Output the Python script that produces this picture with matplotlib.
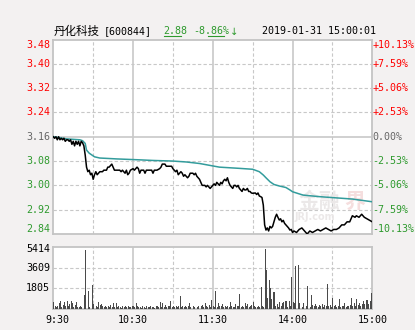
import matplotlib
matplotlib.use("Agg")
import matplotlib.pyplot as plt
from matplotlib.lines import Line2D

# ---- data -------------------------------------------------------------
prev_close = 3.16
last_price = 2.88
change_pct = "-8.86%"
stock_name = "丹化科技"
stock_code = "[600844]"
timestamp = "2019-01-31 15:00:01"

price_ticks = [3.48, 3.40, 3.32, 3.24, 3.16, 3.08, 3.00, 2.92, 2.84]
pct_labels = ["+10.13%", "+7.59%", "+5.06%", "+2.53%", "0.00%",
              "-2.53%", "-5.06%", "-7.59%", "-10.13%"]
vol_ticks = [5414, 3609, 1805]
time_ticks = [0, 60, 120, 180, 240]
time_labels = ["9:30", "10:30", "11:30", "14:00", "15:00"]

# minute index (0..240) and price of the intraday line
price_min = [0, 1, 2, 3, 4, 5, 6, 7, 8, 9, 10, 11, 12, 13, 14, 15, 16, 17, 18, 19,
             20, 21, 22, 23, 24, 25, 26, 27, 28, 29, 30, 31, 32, 33, 34, 35, 37, 38,
             40, 41, 42, 43, 44, 45, 46, 48, 50, 51, 52, 53, 54, 55, 56, 57, 58, 60,
             61, 62, 63, 64, 65, 66, 68, 69, 70, 72, 74, 75, 76, 78, 80, 81, 82, 84,
             85, 89, 90, 91, 92, 93, 94, 95, 96, 97, 98, 99, 100, 101, 102, 103, 105,
             106, 107, 108, 110, 111, 112, 114, 115, 116, 117, 118, 119, 120,
             121, 122, 123, 124, 125, 126, 127, 128, 129, 130, 131, 132, 133, 134,
             135, 136, 137, 138, 139, 140, 141, 142, 143, 144, 145, 146, 147, 148,
             149, 150, 152, 153, 154, 155, 156, 157, 158, 159, 160, 161, 162, 163,
             164, 165, 166, 167, 168, 169, 170, 171, 172, 173, 174, 175, 176, 177,
             178, 179, 180, 181, 183, 185, 187, 189, 191, 193, 195, 197, 199, 201,
             203, 205, 207, 209, 211, 213, 215, 217, 219, 221, 223, 225, 227, 228,
             230, 232, 234, 236, 238, 240]
price_val = [3.16, 3.155, 3.16, 3.15, 3.16, 3.15, 3.155, 3.15, 3.155, 3.145, 3.15,
             3.15, 3.145, 3.15, 3.135, 3.145, 3.13, 3.145, 3.135, 3.145, 3.13, 3.145,
             3.14, 3.13, 3.10, 3.06, 3.045, 3.05, 3.035, 3.04, 3.02, 3.035, 3.045,
             3.035, 3.04, 3.045, 3.045, 3.05, 3.05, 3.06, 3.06, 3.065, 3.07, 3.06,
             3.05, 3.05, 3.05, 3.045, 3.05, 3.045, 3.04, 3.05, 3.035, 3.04, 3.05,
             3.055, 3.05, 3.055, 3.06, 3.055, 3.04, 3.05, 3.05, 3.04, 3.05, 3.05,
             3.05, 3.04, 3.05, 3.05, 3.055, 3.06, 3.07, 3.07, 3.063, 3.063, 3.055,
             3.05, 3.045, 3.05, 3.035, 3.04, 3.045, 3.04, 3.03, 3.035, 3.03, 3.025,
             3.03, 3.04, 3.04, 3.035, 3.04, 3.03, 3.02, 3.01, 3.0, 3.0, 2.995, 3.0,
             2.995, 2.99, 2.995, 3.0,
             3.005, 3.0, 3.01, 3.005, 3.0, 3.01, 3.005, 3.015, 3.02, 3.015, 3.025,
             3.01, 3.0, 2.995, 2.99, 3.0, 3.0, 2.995, 3.0, 2.99, 2.985, 2.98, 2.99,
             2.985, 2.985, 2.99, 2.98, 2.98, 2.975, 2.974, 2.975, 2.97, 2.975, 2.965,
             2.963, 2.96, 2.935, 2.87, 2.853, 2.86, 2.85, 2.865, 2.86, 2.865, 2.88,
             2.895, 2.905, 2.895, 2.886, 2.89, 2.88, 2.885, 2.875, 2.87, 2.865, 2.86,
             2.853, 2.855, 2.845, 2.85, 2.845, 2.855, 2.86, 2.85, 2.84, 2.85, 2.845,
             2.85, 2.855, 2.85, 2.855, 2.86, 2.855, 2.85, 2.855, 2.855, 2.86, 2.87,
             2.87, 2.88, 2.88, 2.90, 2.895, 2.90, 2.895, 2.905, 2.895, 2.89, 2.885,
             2.88]

# average-price line
avg_min = [0, 10, 20, 22, 24, 25, 27, 29, 31, 35, 48, 65, 75, 90, 100, 110, 120,
           125, 140, 150, 155, 158, 160, 163, 166, 170, 175, 178, 180, 185, 188,
           200, 225, 240]
avg_val = [3.16, 3.153, 3.15, 3.147, 3.138, 3.116, 3.106, 3.1, 3.094, 3.09, 3.087,
           3.084, 3.082, 3.08, 3.077, 3.072, 3.064, 3.06, 3.056, 3.053, 3.045,
           3.034, 3.025, 3.012, 3.003, 2.998, 2.993, 2.985, 2.979, 2.972, 2.968,
           2.963, 2.955, 2.946]

# per-minute volume (lots), 9:30 .. 15:00
volume = [
    650, 300, 200, 250, 500, 700, 200, 350, 650, 250, 700, 300, 400, 700, 550, 200, 350, 650, 200, 150,
    250, 150, 300, 1220, 5140, 300, 1570, 200, 350, 2090, 450, 300, 250, 200, 650, 350, 450, 300, 200, 300,
    150, 300, 200, 350, 150, 550, 200, 550, 150, 300, 200, 100, 250, 150, 300, 200, 250, 150, 200, 250,
    300, 150, 550, 250, 150, 200, 100, 250, 150, 100, 250, 150, 200, 300, 150, 200, 100, 250, 300, 150,
    650, 150, 500, 200, 350, 150, 250, 300, 700, 200, 300, 150, 250, 200, 300, 1130, 150, 250, 200, 300,
    150, 250, 550, 200, 150, 300, 200, 250, 150, 300, 1660, 250, 350, 200, 550, 300, 200, 350, 150, 780,
    250, 200, 1600, 200, 550, 300, 250, 400, 150, 300, 200, 250, 150, 650, 250, 200, 150, 400, 250, 300,
    1310, 200, 250, 150, 550, 300, 400, 200, 250, 350, 580, 300, 200, 150, 250, 200, 1890, 300, 200, 5230,
    3400, 930, 2530, 1800, 850, 1510, 1510, 300, 450, 200, 600, 250, 500, 650, 700, 700, 200, 700, 250, 2820,
    650, 500, 3750, 300, 3840, 500, 300, 200, 500, 250, 300, 2030, 500, 200, 1220, 350, 300, 400, 250, 200,
    350, 300, 450, 200, 350, 300, 2210, 250, 350, 200, 930, 300, 350, 200, 300, 870, 200, 300, 250, 500,
    200, 300, 250, 350, 960, 300, 500, 250, 840, 350, 500, 300, 400, 700, 450, 750, 780, 400, 700, 1420,
    300,
]

# ---- style ------------------------------------------------------------
BG = "#f3f1f1"
FRAME = "#c4c4c4"
GRID = "#c8c8c8"
RED = "#ff0000"
GREEN = "#2e9a2e"
GREY = "#666666"
TEAL = "#339c9c"
MONO = "DejaVu Sans Mono"
FS = 7.2

W, H = 415, 330
fig = plt.figure(figsize=(W / 100, H / 100), dpi=100, facecolor=BG)


def fx(px):
    return px / W


def fy(py):
    return 1 - py / H


ax = fig.add_axes([fx(53.3), fy(234), fx(372.3) - fx(53.3), fy(39.5) - fy(234)])
axv = fig.add_axes([fx(53.3), fy(309), fx(372.3) - fx(53.3), fy(246.9) - fy(309)])

dash = (0, (3, 2))
for a in (ax, axv):
    a.set_facecolor("white")
    a.set_xlim(0, 240)
    for s in a.spines.values():
        s.set_color(FRAME)
        s.set_linewidth(1.3)
    a.set_xticks([])
    a.set_yticks([])
    for m in (30, 90, 150, 210):
        a.axvline(m, color=GRID, lw=0.8, ls=dash, zorder=0)
    for m in (60, 120, 180):
        a.axvline(m, color=GRID, lw=1.2, zorder=0)

# price panel
ax.set_ylim(price_ticks[-1], price_ticks[0])
for p in price_ticks[1:-1]:
    if p == prev_close:
        ax.axhline(p, color=GRID, lw=1.2, zorder=0)
    else:
        ax.axhline(p, color=GRID, lw=0.8, ls=dash, zorder=0)

# faint site watermark, kept beneath the lines
ax.text(fx(319), fy(201.5), "金融", transform=fig.transFigure, fontsize=15,
        fontweight="bold", family=["Noto Sans CJK SC"], color="#ebe8e8",
        ha="center", va="center", zorder=1)
ax.text(fx(355), fy(201.5), "界", transform=fig.transFigure, fontsize=15,
        fontweight="bold", family=["Noto Sans CJK SC"], color="#f5dede",
        ha="center", va="center", zorder=1)
ax.text(fx(315), fy(217), "JRJ.com", transform=fig.transFigure, fontsize=7,
        fontweight="bold", family=["DejaVu Sans"], color="#ebe8e8",
        ha="center", va="center", zorder=1)

ax.plot(avg_min, avg_val, color=TEAL, lw=1.1, zorder=3)
ax.plot(price_min, price_val, color="black", lw=1.1, zorder=4)

# volume panel
axv.set_ylim(0, vol_ticks[0])
for v in vol_ticks[1:]:
    axv.axhline(v, color=GRID, lw=0.8, ls=dash, zorder=0)
axv.bar(range(len(volume)), volume, width=0.72, align="edge", color="#4a4a4a",
        linewidth=0, zorder=3)

# ---- labels -----------------------------------------------------------
for p, lab in zip(price_ticks, pct_labels):
    py = 234 - (p - price_ticks[-1]) / (price_ticks[0] - price_ticks[-1]) * (234 - 39.5)
    py = min(max(py, 45), 229)
    if p > prev_close:
        col = RED
    elif p < prev_close:
        col = GREEN
    else:
        col = GREY
    fig.text(fx(50), fy(py), f"{p:.2f}", color=col, family=MONO, fontsize=FS,
             ha="right", va="center")
    fig.text(fx(372.5), fy(py), lab, color=col, family=MONO, fontsize=FS,
             ha="left", va="center")

for v in vol_ticks:
    py = 309 - v / vol_ticks[0] * (309 - 246.9)
    py = max(py, 249.3)
    fig.text(fx(50), fy(py), str(v), color="black", family=MONO, fontsize=FS,
             ha="right", va="center")

for m, lab in zip(time_ticks, time_labels):
    px = 53.3 + m / 240 * 319
    px = max(px, 57.5)
    fig.text(fx(px), fy(320), lab, color="black", family=MONO, fontsize=FS,
             ha="center", va="center")

# header line
fig.text(fx(54), fy(31), stock_name, family=["Noto Sans CJK SC"], fontsize=8.3,
         ha="left", va="center", color="black")
fig.text(fx(104), fy(31), stock_code, family=MONO, fontsize=FS, ha="left",
         va="center", color="black")
fig.text(fx(163.5), fy(31), f"{last_price:.2f}", family=MONO, fontsize=FS,
         ha="left", va="center", color=GREEN)
fig.text(fx(193), fy(31), change_pct, family=MONO, fontsize=FS, ha="left",
         va="center", color=GREEN)
fig.text(fx(230), fy(31.5), "↓", family=["DejaVu Sans"], fontsize=FS, ha="left",
         va="center", color=GREEN)
fig.text(fx(262), fy(31), timestamp, family=MONO, fontsize=FS, ha="left",
         va="center", color="black")
fig.add_artist(Line2D([fx(164), fx(181)], [fy(35.5), fy(35.5)], color=GREEN, lw=0.8))
fig.add_artist(Line2D([fx(208), fx(224)], [fy(35.5), fy(35.5)], color=GREEN, lw=0.8))

fig.savefig("out.png", dpi=100, facecolor=BG)
